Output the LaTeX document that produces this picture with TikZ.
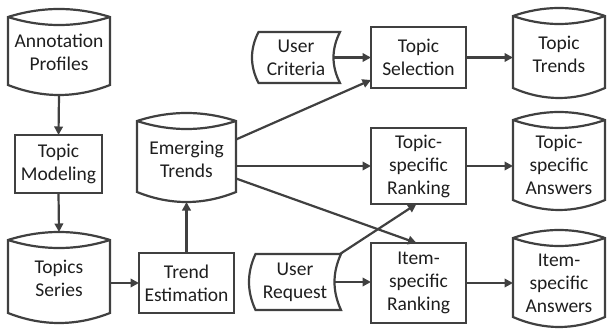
\documentclass[tikz,border=0pt]{standalone}
\usepackage{fontspec}
\setmainfont{Carlito}
\usetikzlibrary{arrows.meta,calc}

\definecolor{linegray}{HTML}{404040}
\definecolor{inkgray}{HTML}{1E1E1E}

\tikzset{
  outline/.style={draw=linegray, line width=2.2pt, line join=miter},
  area/.style={draw=none, inner sep=0pt, outer sep=0pt},
  lbl/.style={font=\fontsize{19.5}{23}\selectfont, align=center, text=inkgray, inner sep=0pt},
  procbox/.style={outline, lbl, outer sep=0pt},
  conn/.style={draw=linegray, line width=2.2pt, -{Triangle[length=8.5pt,width=8.5pt]}},
}

% depth of the lens on top of a drum, and bulge of its foot
\def\lensd{8}
\def\footb{10}
% curvature of the sides of a stored-data shape
\def\sidec{6.5}

% drum (magnetic disk) shape: name, left, right, top, bottom, text, text shift
% every arc is a parabola written as a cubic
\newcommand\drum[7]{%
  \pgfmathsetmacro\dXa{#2}\pgfmathsetmacro\dXb{#3}%
  \pgfmathsetmacro\dXm{(#2+#3)/2}%
  \pgfmathsetmacro\dXc{#2+(#3-#2)/3}%
  \pgfmathsetmacro\dXd{#3-(#3-#2)/3}%
  \pgfmathsetmacro\dYm{(#4+#5)/2}%
  \pgfmathsetmacro\dYrim{#4+\lensd}%
  \pgfmathsetmacro\dYup{#4+\lensd-4*\lensd/3}%
  \pgfmathsetmacro\dYlow{#4+\lensd+4*\lensd/3}%
  \pgfmathsetmacro\dYfoot{#5-\footb}%
  \pgfmathsetmacro\dYdown{#5-\footb+4*\footb/3}%
  \node[area, minimum width={#3-#2}, minimum height={#5-#4}] (#1) at (\dXm,\dYm) {};
  \draw[outline] (\dXa,\dYrim) .. controls (\dXc,\dYup) and (\dXd,\dYup) .. (\dXb,\dYrim)
     -- (\dXb,\dYfoot) .. controls (\dXd,\dYdown) and (\dXc,\dYdown) .. (\dXa,\dYfoot) -- cycle;
  \draw[outline] (\dXa,\dYrim) .. controls (\dXc,\dYlow) and (\dXd,\dYlow) .. (\dXb,\dYrim);
  \node[lbl] (#1-label) at ([yshift=#7]#1.center) {#6};
}

% stored-data shape: name, left, right, top, bottom, text
\newcommand\stored[6]{%
  \pgfmathsetmacro\sXa{#2+\sidec}\pgfmathsetmacro\sXb{#3}%
  \pgfmathsetmacro\sXal{#2+\sidec-4*\sidec/3}%
  \pgfmathsetmacro\sXbl{#3-4*\sidec/3}%
  \pgfmathsetmacro\sXm{(#2+#3)/2}%
  \pgfmathsetmacro\sYm{(#4+#5)/2}%
  \pgfmathsetmacro\sYc{#4+(#5-#4)/3}%
  \pgfmathsetmacro\sYd{#5-(#5-#4)/3}%
  \node[area, minimum width={#3-#2}, minimum height={#5-#4}] (#1) at (\sXm,\sYm) {};
  \draw[outline] (\sXa,#4) -- (\sXb,#4) .. controls (\sXbl,\sYc) and (\sXbl,\sYd) .. (\sXb,#5)
     -- (\sXa,#5) .. controls (\sXal,\sYd) and (\sXal,\sYc) .. cycle;
  \node[lbl] (#1-label) at (#1.center) {#6};
}

\begin{document}
\begin{tikzpicture}[x=1pt, y=-1pt]
  \useasboundingbox (0,0) rectangle (608,329);

  % data stores
  \drum{AP}{8}{110}{9}{95}{Annotation\\Profiles}{0pt}
  \drum{TS}{8}{110}{232}{323}{Topics\\Series}{-1pt}
  \drum{ET}{137}{236}{113}{202}{Emerging\\Trends}{-2pt}
  \drum{TT}{513}{605}{8}{98}{Topic\\Trends}{-1pt}
  \drum{TsA}{513}{605}{112}{210}{Topic-\\specific\\Answers}{-4pt}
  \drum{IsA}{513}{605}{230}{327}{Item-\\specific\\Answers}{-5pt}

  % user inputs
  \stored{UC}{252}{340}{32}{83}{User\\Criteria}
  \stored{UR}{249}{341}{254}{310}{User\\Request}

  % processing steps
  \node[procbox, minimum width=87pt, minimum height=58pt] (TM) at (58.5,164) {Topic\\Modeling};
  \node[procbox, minimum width=95pt, minimum height=60pt] (TE) at (186.5,283) {Trend\\Estimation};
  \node[procbox, minimum width=95pt, minimum height=61pt] (TSel) at (418.5,57.5) {Topic\\Selection};
  \node[procbox, minimum width=95pt, minimum height=76pt] (TsR) at (418.5,166) {Topic-\\specific\\Ranking};
  \node[procbox, minimum width=95pt, minimum height=80pt] (IsR) at (418.5,283) {Item-\\specific\\Ranking};

  % connectors
  \draw[conn] (AP.south) -- (TM.north);
  \draw[conn] (TM.south) -- (TS.north);
  \draw[conn] (TS.east |- TE.west) -- (TE.west);
  \draw[conn] (TE.north) -- (ET.south);
  \draw[conn] ([yshift=18pt]ET.east) -- ([yshift=8pt]TSel.south west);
  \draw[conn] (ET.east |- TsR.west) -- (TsR.west);
  \draw[conn] ([yshift=-21pt]ET.east) -- ([xshift=-2pt]IsR.north);
  \draw[conn] ([xshift=-6pt]UC.east) -- (UC.east -| TSel.west);
  \draw[conn] ([xshift=-1pt]UR.north east) -- ([xshift=-2pt]TsR.south);
  \draw[conn] ([xshift=-6pt]UR.east) -- (UR.east -| IsR.west);
  \draw[conn] (TSel.east) -- (TSel.east -| TT.west);
  \draw[conn] (TsR.east) -- (TsR.east -| TsA.west);
  \draw[conn] (IsR.east) -- (IsR.east -| IsA.west);
\end{tikzpicture}
\end{document}
